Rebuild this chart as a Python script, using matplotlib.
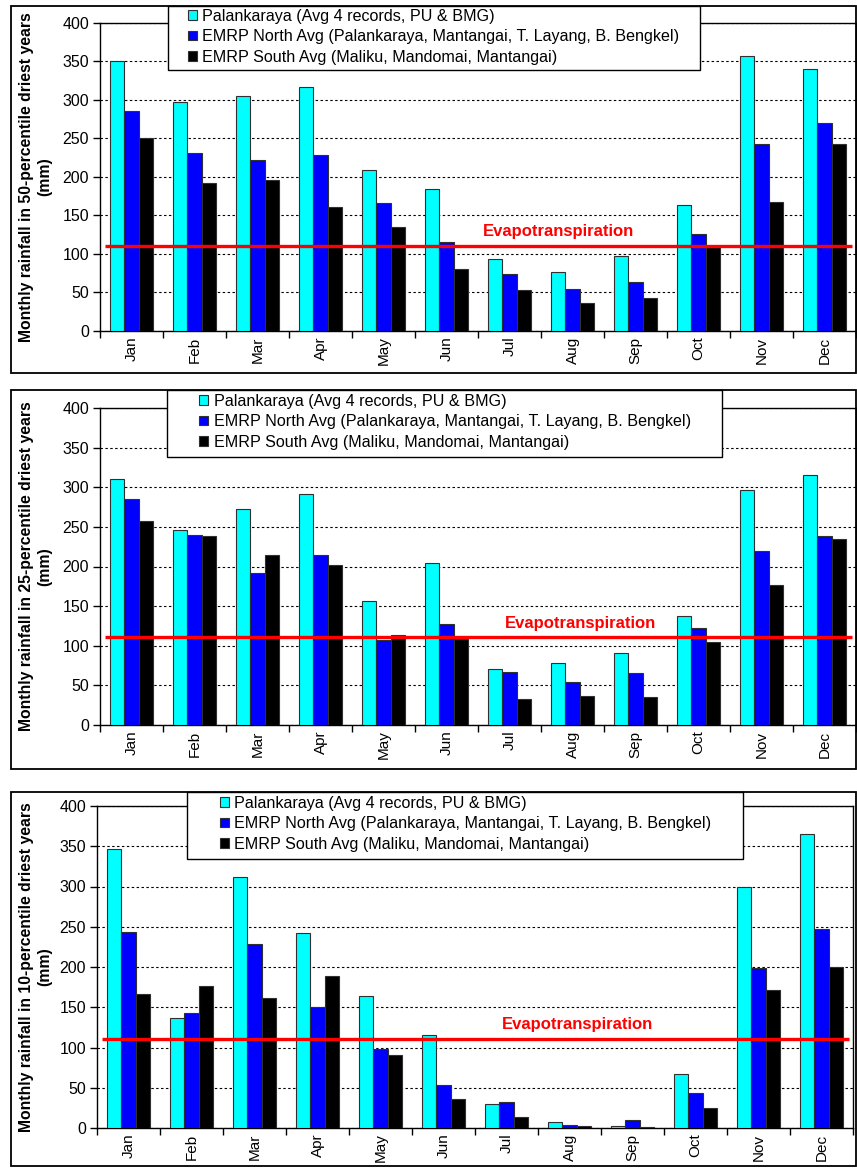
import matplotlib
matplotlib.use('Agg')
import matplotlib.pyplot as plt
import numpy as np
from matplotlib.patches import Rectangle

plt.rcParams['font.family'] = ['Liberation Sans', 'DejaVu Sans']

months = ['Jan', 'Feb', 'Mar', 'Apr', 'May', 'Jun', 'Jul', 'Aug', 'Sep', 'Oct', 'Nov', 'Dec']
series_names = ['Palankaraya (Avg 4 records, PU & BMG)',
                'EMRP North Avg (Palankaraya, Mantangai, T. Layang, B. Bengkel)',
                'EMRP South Avg (Maliku, Mandomai, Mantangai)']
colors = ['#00FFFF', '#0000FF', '#000000']

# 50-percentile driest years
p50_palangka = [351, 298, 305, 317, 209, 185, 93, 76, 98, 163, 357, 340]
p50_north = [286, 231, 222, 229, 166, 116, 74, 54, 63, 126, 243, 270]
p50_south = [250, 192, 196, 161, 135, 81, 53, 37, 43, 110, 168, 243]

# 25-percentile driest years
p25_palangka = [310, 246, 273, 291, 156, 205, 71, 78, 91, 137, 296, 315]
p25_north = [285, 240, 192, 215, 107, 127, 67, 54, 66, 122, 219, 238]
p25_south = [257, 239, 214, 202, 114, 109, 33, 37, 35, 105, 177, 235]

# 10-percentile driest years
p10_palangka = [347, 137, 312, 242, 164, 116, 30, 8, 3, 67, 299, 365]
p10_north = [244, 143, 229, 150, 98, 53, 32, 4, 10, 43, 199, 247]
p10_south = [167, 176, 162, 189, 91, 36, 14, 2.5, 1.5, 25, 172, 200]

evapotranspiration = 111

W, H = 857, 1168
fig = plt.figure(figsize=(W / 100, H / 100), dpi=100)


def px(x0, y0, x1, y1):
    # pixel box -> figure fraction [left, bottom, width, height]
    return [x0 / W, 1 - y1 / H, (x1 - x0) / W, (y1 - y0) / H]


def add_box(box, lw, z, face='none'):
    x0, y0, x1, y1 = box
    fig.patches.append(Rectangle((x0 / W, 1 - y1 / H), (x1 - x0) / W, (y1 - y0) / H,
                                 transform=fig.transFigure, facecolor=face,
                                 edgecolor='black', lw=lw, zorder=z))


def draw_panel(axbox, framebox, legbox, leg_xy, data, pct, et_text_x):
    add_box(framebox, 1.3, 0)
    ax = fig.add_axes(px(*axbox))
    x = np.arange(len(months))
    bw = 0.227
    bars = []
    for i, (vals, c) in enumerate(zip(data, colors)):
        b = ax.bar(x + (i - 1) * bw, vals, width=bw, color=c,
                   edgecolor='#303030', linewidth=0.8, zorder=3)
        bars.append(b)
    ax.set_xlim(-0.5, 11.5)
    ax.set_ylim(0, 400)
    ax.set_yticks(np.arange(0, 401, 50))
    ax.yaxis.grid(True, linestyle=(0, (2.2, 2.2)), color='black', linewidth=0.8, zorder=0)
    ax.set_axisbelow(True)
    ax.set_xticks(np.arange(-0.5, 12, 1))
    ax.set_xticklabels([])
    ax.set_xticks(x, minor=True)
    ax.set_xticklabels(months, minor=True, rotation=90, fontsize=11)
    ax.tick_params(axis='x', which='minor', length=0, pad=4)
    ax.tick_params(axis='x', which='major', length=5, width=1, direction='out')
    ax.tick_params(axis='y', length=5, width=1, direction='out', labelsize=11.5, pad=3)
    for s in ax.spines.values():
        s.set_linewidth(1)
    ax.plot([-0.42, 11.44], [evapotranspiration, evapotranspiration], color='#FF0000',
            lw=2.4, zorder=4, solid_capstyle='butt')
    ax.text(et_text_x, evapotranspiration + 12, 'Evapotranspiration', color='#FF0000',
            fontsize=12, fontweight='bold', ha='center', va='baseline', zorder=5)
    y0, y1 = axbox[1], axbox[3]
    fig.text(36 / W, 1 - ((y0 + y1) / 2) / H,
             'Monthly rainfall in %d-percentile driest years\n(mm)' % pct,
             rotation=90, ha='center', va='center', multialignment='center',
             fontsize=11.3, fontweight='bold', linespacing=1.25)
    # legend box drawn separately so the inner padding can match
    add_box(legbox, 1, 4, face='white')
    lx, ly = leg_xy
    fig.legend(bars, series_names, loc='upper left',
               bbox_to_anchor=(lx / W, 1 - ly / H), bbox_transform=fig.transFigure,
               fontsize=11.6, frameon=False, borderaxespad=0, borderpad=0,
               handlelength=0.55, handleheight=0.55, handletextpad=0.35,
               labelspacing=0.33).set_zorder(5)
    return ax


draw_panel((100, 23, 856, 331), (11, 6, 856, 373), (168, 6, 700, 70), (188, 9),
           [p50_palangka, p50_north, p50_south], 50, 6.77)
draw_panel((100, 408, 856, 725), (11, 390, 856, 769), (167, 390, 722, 457), (199, 394),
           [p25_palangka, p25_north, p25_south], 25, 7.12)
draw_panel((97, 806, 853, 1128), (11, 792, 856, 1166), (187, 792, 743, 859), (220, 796),
           [p10_palangka, p10_north, p10_south], 10, 7.12)

fig.savefig('out.png', dpi=100)
plt.close(fig)
